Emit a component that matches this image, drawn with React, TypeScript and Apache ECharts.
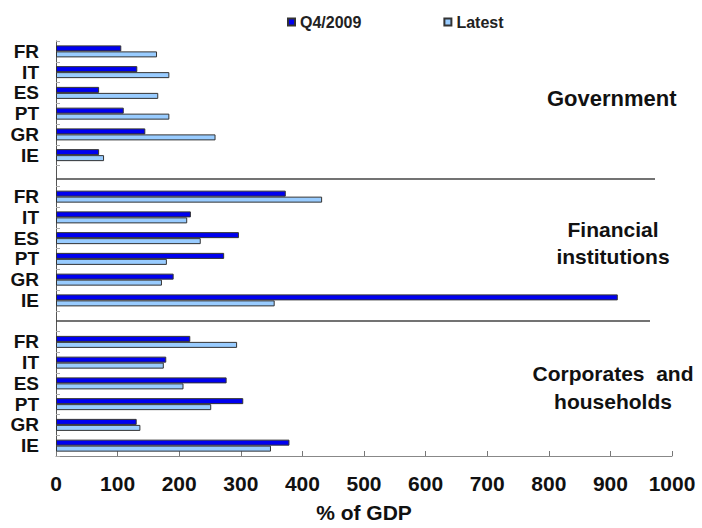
import React, { useEffect, useRef } from "react";
import * as echarts from "echarts";

const countries = ["FR", "IT", "ES", "PT", "GR", "IE"];
const seriesNames = ["Q4/2009", "Latest"];
const groupLabels = ["Government", "Financial\ninstitutions", "Corporates  and\nhouseholds"];

const govQ4 = [106, 132, 70, 110, 145, 70];
const govLatest = [164, 184, 166, 184, 259, 78];
const finQ4 = [373, 219, 297, 273, 191, 912];
const finLatest = [432, 213, 235, 180, 172, 355];
const corpQ4 = [218, 179, 277, 304, 131, 379];
const corpLatest = [294, 175, 207, 252, 137, 349];

const xTicks = { min: 0, max: 1000, interval: 100 };

const categories = [...countries, "", ...countries, "", ...countries];
const q4Data = [...govQ4, null, ...finQ4, null, ...corpQ4];
const latestData = [...govLatest, null, ...finLatest, null, ...corpLatest];

const FONT = "'Liberation Sans', Arial, sans-serif";

export default function App() {
  const ref = useRef<HTMLDivElement>(null);
  useEffect(() => {
    if (!ref.current) return;
    const chart = echarts.init(ref.current, undefined, { renderer: "svg" });
    const sepStyle = { color: "#444", width: 1.5, type: "solid" as const };
    chart.setOption({
      animation: false,
      backgroundColor: "#fff",
      textStyle: { fontFamily: FONT },
      legend: {
        data: seriesNames,
        left: 282,
        top: 9,
        itemWidth: 7,
        itemHeight: 7,
        itemGap: 82,
        icon: "rect",
        textStyle: { fontFamily: FONT, fontWeight: "bold", fontSize: 16, color: "#222" },
      },
      grid: { left: 56, right: 30, top: 41, bottom: 71, containLabel: false },
      xAxis: {
        type: "value",
        min: xTicks.min,
        max: xTicks.max,
        interval: xTicks.interval,
        splitLine: { show: false },
        axisLine: { show: true, lineStyle: { color: "#888", width: 1 } },
        axisTick: { show: true, inside: true, length: 5, lineStyle: { color: "#777" } },
        axisLabel: {
          fontFamily: FONT,
          fontWeight: "bold",
          fontSize: 21,
          color: "#111",
          margin: 17,
          formatter: (v: number) => String(v),
        },
        name: "% of GDP",
        nameLocation: "middle",
        nameGap: 46,
        nameTextStyle: { fontFamily: FONT, fontWeight: "bold", fontSize: 21, color: "#111" },
      },
      yAxis: {
        type: "category",
        inverse: true,
        data: categories,
        axisLine: { show: true, lineStyle: { color: "#555", width: 1 } },
        axisTick: { show: true, inside: true, length: 4, lineStyle: { color: "#aaa" } },
        axisLabel: { fontFamily: FONT, fontWeight: "bold", fontSize: 19, color: "#111", margin: 17, interval: 0 },
      },
      graphic: [
        {
          type: "text",
          left: 613 - 66,
          top: 87,
          style: { text: groupLabels[0], font: `bold 22px ${FONT}`, fill: "#111", textAlign: "left" },
        },
        {
          type: "text",
          x: 613,
          y: 243,
          style: {
            text: groupLabels[1],
            font: `bold 21px ${FONT}`,
            fill: "#111",
            textAlign: "center",
            textVerticalAlign: "middle",
            lineHeight: 27,
          },
        },
        {
          type: "text",
          x: 613,
          y: 387,
          style: {
            text: groupLabels[2],
            font: `bold 21px ${FONT}`,
            fill: "#111",
            textAlign: "center",
            textVerticalAlign: "middle",
            lineHeight: 28,
          },
        },
      ],
      series: [
        {
          name: seriesNames[0],
          type: "bar",
          data: q4Data,
          barWidth: 6,
          barGap: "0%",
          itemStyle: { color: "#0000F0", borderColor: "#333", borderWidth: 1 },
          markLine: {
            silent: true,
            symbol: "none",
            label: { show: false },
            lineStyle: sepStyle,
            data: [
              [{ x: 56, y: 179 }, { x: 655, y: 179 }],
              [{ x: 56, y: 321 }, { x: 650, y: 321 }],
            ],
          },
        },
        {
          name: seriesNames[1],
          type: "bar",
          data: latestData,
          barWidth: 6,
          barGap: "0%",
          itemStyle: { color: "#99CCFF", borderColor: "#333", borderWidth: 1 },
        },
      ],
    });
    return () => chart.dispose();
  }, []);
  return <div ref={ref} style={{ width: 702, height: 528, position: "absolute", left: 0, top: 0 }} />;
}
